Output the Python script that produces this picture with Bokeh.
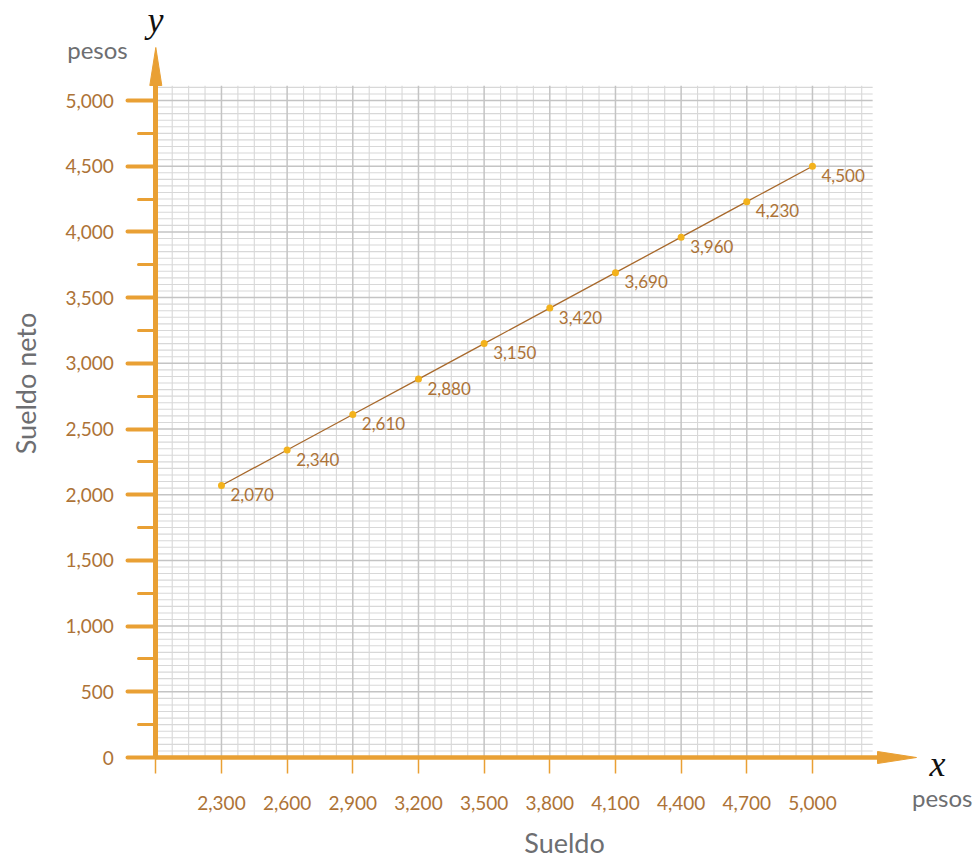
import math
from bokeh.plotting import figure
from bokeh.models import Range1d, FixedTicker, Label, ColumnDataSource
from bokeh.embed import file_html
from bokeh.resources import INLINE
from bokeh.core.properties import value

# ---- data ----
sueldo = [2300, 2600, 2900, 3200, 3500, 3800, 4100, 4400, 4700, 5000]
sueldo_neto = [2070, 2340, 2610, 2880, 3150, 3420, 3690, 3960, 4230, 4500]
point_labels = ["2,070", "2,340", "2,610", "2,880", "3,150", "3,420", "3,690", "3,960", "4,230", "4,500"]

x_ticks = [2000, 2300, 2600, 2900, 3200, 3500, 3800, 4100, 4400, 4700, 5000]
x_tick_labels = ["", "2,300", "2,600", "2,900", "3,200", "3,500", "3,800", "4,100", "4,400", "4,700", "5,000"]
y_ticks = [0, 500, 1000, 1500, 2000, 2500, 3000, 3500, 4000, 4500, 5000]
y_tick_labels = ["0", "500", "1,000", "1,500", "2,000", "2,500", "3,000", "3,500", "4,000", "4,500", "5,000"]
y_minor_ticks = [250, 750, 1250, 1750, 2250, 2750, 3250, 3750, 4250, 4750]

# ---- styling / layout ----
ORANGE = "#E9A034"
GOLD = "#F3B21C"
LINE_BROWN = "#A8692C"
TEXT_BROWN = "#AD7337"
GRAY_TEXT = "#6D6E71"
FONT = "Lato"

W, H = 977, 861
X0 = 2000
XPX = 591 / 2700.0   # px per peso (x)
YPX = 657 / 5000.0   # px per peso (y)
AX_PX, AY_PX = 155.3, 757.0   # pixel position of the axes origin


def sx(px):  # page x -> data x
    return X0 + (px - AX_PX) / XPX


def sy(py):  # page y -> data y
    return (AY_PX - py) / YPX


GRID_X1 = 5275
GRID_Y1 = 5112
X_ARROW_BASE, X_ARROW_TIP = sx(877), sx(916)
Y_ARROW_BASE, Y_ARROW_TIP = sy(85), sy(47)

p = figure(width=W, height=H, output_backend="svg", toolbar_location=None,
           x_range=Range1d(sx(0), sx(W)), y_range=Range1d(sy(H), sy(0)),
           min_border_left=0, min_border_bottom=0, min_border_top=0, min_border_right=0)
p.outline_line_color = None
p.xgrid.visible = False
p.ygrid.visible = False
p.background_fill_color = "white"
p.border_fill_color = "white"

# ---- grid (graph paper) ----
vx = list(range(2075, GRID_X1, 75))
minor_vx = [v for v in vx if (v - X0) % 300 != 0]
major_vx = [v for v in vx if (v - X0) % 300 == 0]
hy = list(range(50, GRID_Y1, 50))
minor_hy = [v for v in hy if v % 500 != 0]
major_hy = [v for v in hy if v % 500 == 0]

p.segment(x0=minor_vx, y0=[0] * len(minor_vx), x1=minor_vx, y1=[GRID_Y1] * len(minor_vx),
          line_color="#D8D8D8", line_width=1.1)
p.segment(x0=[X0] * len(minor_hy), y0=minor_hy, x1=[GRID_X1] * len(minor_hy), y1=minor_hy,
          line_color="#D8D8D8", line_width=1.1)
p.segment(x0=major_vx, y0=[0] * len(major_vx), x1=major_vx, y1=[GRID_Y1] * len(major_vx),
          line_color="#C4C4C4", line_width=1.5)
p.segment(x0=[X0] * len(major_hy), y0=major_hy, x1=[GRID_X1] * len(major_hy), y1=major_hy,
          line_color="#C4C4C4", line_width=1.5)

# ---- data ----
src = ColumnDataSource(dict(x=sueldo, y=sueldo_neto, lab=point_labels))
p.line("x", "y", source=src, line_color=LINE_BROWN, line_width=1.3)
p.scatter("x", "y", source=src, size=7, fill_color=GOLD, line_color=None)
p.text("x", "y", text="lab", source=src, x_offset=9, y_offset=9,
       text_font=value(FONT), text_font_size="17px", text_color=TEXT_BROWN,
       text_align="left", text_baseline="middle")

# ---- y axis ----
ya = p.yaxis[0]
ya.fixed_location = X0
ya.ticker = FixedTicker(ticks=y_ticks, minor_ticks=y_minor_ticks)
ya.major_label_overrides = {t: l for t, l in zip(y_ticks, y_tick_labels)}
ya.bounds = (0, Y_ARROW_BASE)
ya.axis_line_color = ORANGE
ya.axis_line_width = 5
ya.major_tick_in = 0
ya.major_tick_out = 28
ya.major_tick_line_width = 4
ya.major_tick_line_color = ORANGE
ya.major_tick_line_cap = "round"
ya.minor_tick_in = 0
ya.minor_tick_out = 17
ya.minor_tick_line_width = 3
ya.minor_tick_line_color = ORANGE
ya.minor_tick_line_cap = "round"
ya.major_label_standoff = 14
ya.major_label_text_font = FONT
ya.major_label_text_font_size = "19px"
ya.major_label_text_color = TEXT_BROWN

# ---- x axis ----
xa = p.xaxis[0]
xa.fixed_location = 0
xa.ticker = FixedTicker(ticks=x_ticks, minor_ticks=[])
xa.major_label_overrides = {t: l for t, l in zip(x_ticks, x_tick_labels)}
xa.bounds = (X0, X_ARROW_BASE)
xa.axis_line_color = ORANGE
xa.axis_line_width = 4.5
xa.major_tick_in = 0
xa.major_tick_out = 16
xa.major_tick_line_width = 1.5
xa.major_tick_line_color = ORANGE
xa.minor_tick_line_color = None
xa.major_label_standoff = 22
xa.major_label_text_font = FONT
xa.major_label_text_font_size = "19px"
xa.major_label_text_color = TEXT_BROWN

# ---- arrowheads ----
hw_y = 6 / YPX
hw_x = 6 / XPX
p.patch(x=[X_ARROW_BASE, X_ARROW_TIP, X_ARROW_BASE], y=[hw_y, 0, -hw_y],
        fill_color=ORANGE, line_color=ORANGE, line_width=1)
p.patch(x=[X0 - hw_x, X0, X0 + hw_x], y=[Y_ARROW_BASE, Y_ARROW_TIP, Y_ARROW_BASE],
        fill_color=ORANGE, line_color=ORANGE, line_width=1)

# ---- texts ----
p.add_layout(Label(x=sx(97), y=sy(49), text="pesos", text_font=FONT, text_font_size="24px",
                   text_color=GRAY_TEXT, text_align="center", text_baseline="alphabetic"))
p.add_layout(Label(x=sx(972), y=sy(797), text="pesos", text_font=FONT, text_font_size="24px",
                   text_color=GRAY_TEXT, text_align="right", text_baseline="alphabetic"))
p.add_layout(Label(x=sx(155), y=sy(19), text="y", text_font="Liberation Serif", text_font_style="italic",
                   text_font_size="36px", text_color="#111111", text_align="center", text_baseline="alphabetic"))
p.add_layout(Label(x=sx(937), y=sy(763), text="x", text_font="Liberation Serif", text_font_style="italic",
                   text_font_size="36px", text_color="#111111", text_align="center", text_baseline="alphabetic"))
p.add_layout(Label(x=sx(564), y=sy(842), text="Sueldo", text_font=FONT, text_font_size="27px",
                   text_color=GRAY_TEXT, text_align="center", text_baseline="alphabetic"))
p.add_layout(Label(x=sx(25), y=sy(383), text="Sueldo neto", text_font=FONT, text_font_size="27px",
                   text_color=GRAY_TEXT, text_align="center", text_baseline="alphabetic", angle=math.pi / 2))

open("out.html", "w").write(file_html(p, INLINE))
